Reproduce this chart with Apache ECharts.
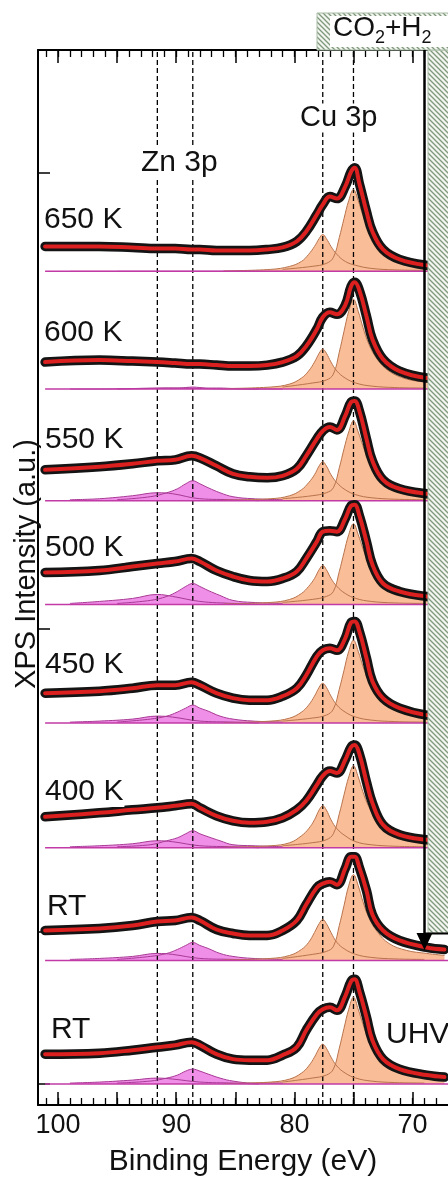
<!DOCTYPE html>
<html>
<head>
<meta charset="utf-8">
<script src="https://cdn.jsdelivr.net/npm/echarts@6/dist/echarts.min.js"></script>
<style>
  html, body { margin: 0; padding: 0; background: #fff; }
  #chart { width: 448px; height: 1182px; }
</style>
</head>
<body>
<div id="chart"></div>
<script>
const FONT = '"Liberation Sans", Arial, sans-serif';

// spectra, top to bottom
const spectrumNames = ['650 K', '600 K', '550 K', '500 K', '450 K', '400 K', 'RT', 'RT'];
// vertical offset of each spectrum (a.u.)
const offsets = [836, 718, 606, 502, 383, 258, 145, 21];

// measured curves: binding energy (eV) and intensity above offset
const dataEnergy = [101.1, 96.5, 93.7, 91.6, 90.1, 88.7, 88.0, 86.6, 85.2, 83.8, 82.3, 81.0, 79.8, 79.0,
  78.1, 77.6, 77.0, 76.4, 75.7, 75.2, 74.9, 74.5, 73.9, 73.4, 72.5, 71.1, 68.8, 67.3];
const measured = [
  [25, 25, 24, 23, 23, 22, 22, 21, 21, 21, 22, 24, 30, 40, 57, 67, 75, 73, 85, 100, 104, 88, 60, 40, 22, 12, 6, 5],
  [27, 29, 28, 27, 26, 25, 25, 24, 23, 23, 24, 27, 33, 43, 60, 72, 77, 75, 84, 103, 107, 99, 73, 50, 30, 18, 11, 10],
  [31, 34, 37, 40, 41, 45, 43, 35, 27, 24, 23, 25, 32, 45, 62, 70, 74, 71, 85, 99, 100, 90, 62, 40, 21, 12, 7, 6],
  [32, 34, 38, 41, 43, 46, 43, 34, 28, 24, 23, 26, 33, 46, 63, 73, 74, 73, 86, 99, 100, 89, 63, 40, 21, 13, 8, 7],
  [30, 32, 35, 38, 38, 41, 38, 30, 25, 23, 23, 27, 35, 48, 67, 73, 75, 73, 85, 101, 102, 92, 65, 42, 25, 15, 8, 7],
  [31, 35, 38, 40, 42, 44, 40, 32, 27, 25, 26, 30, 38, 47, 63, 72, 77, 75, 88, 101, 103, 94, 66, 45, 23, 13, 8, 7],
  [30, 32, 35, 39, 40, 43, 40, 31, 27, 25, 25, 30, 40, 56, 73, 77, 79, 76, 92, 104, 104, 93, 70, 46, 30, 20, 13, 11],
  [30, 31, 34, 37, 39, 42, 39, 30, 25, 24, 24, 29, 37, 54, 70, 75, 77, 74, 88, 103, 105, 93, 67, 44, 25, 15, 9, 7]
];

// fitted components
const zn12Energy = [99, 96.5, 93.7, 91.6, 90.3, 88.0, 85.2, 83];
const zn12 = [
  [0, 0, 0, 0, 0, 0, 0, 0],
  [0, 0, 0.5, 1, 1, 0.5, 0, 0],
  [1, 2, 5, 8, 7, 2, 1, 0],
  [1, 3, 6, 10, 8, 3, 1, 0],
  [1, 2, 4, 7, 6, 2, 1, 0],
  [1, 2, 4, 7, 6, 2, 1, 0],
  [1, 2, 4, 7, 6, 2, 1, 0],
  [1, 2, 4, 6, 5, 2, 1, 0]
];
const zn32Energy = [95, 92.2, 90.8, 89.9, 89.2, 88.6, 88.0, 87.3, 86.3, 85.2, 83.5, 81];
const zn32 = [
  [0, 0, 0, 0, 0, 0, 0, 0, 0, 0, 0, 0],
  [0, 0.5, 1, 1, 1.5, 2, 1.5, 1, 1, 0.5, 0, 0],
  [1, 4, 8, 12, 17, 20, 17, 13, 8, 4, 2, 1],
  [1, 4, 8, 13, 18, 21, 18, 14, 9, 4, 2, 1],
  [1, 4, 7, 11, 15, 18, 15, 12, 7, 4, 2, 1],
  [1, 3, 7, 10, 14, 17, 14, 11, 7, 3, 2, 1],
  [1, 4, 7, 11, 15, 18, 15, 12, 7, 4, 2, 1],
  [1, 3, 6, 9, 13, 15, 13, 10, 6, 3, 1, 1]
];
const cu12Energy = [86, 82, 80.4, 79.4, 78.8, 78.3, 77.9, 77.6, 77.3, 76.9, 76.4, 75.7, 74.8, 73.5, 71.5, 69];
const cu12 = [
  [0.5, 2, 5, 10, 17, 25, 33, 37, 33, 25, 17, 10, 6, 3, 1.5, 1],
  [0.5, 2, 5, 11, 18, 27, 36, 40, 36, 27, 18, 11, 6, 3, 1.5, 1],
  [0.5, 2, 5, 11, 18, 26, 35, 39, 35, 26, 18, 11, 6, 3, 1.5, 1],
  [0.5, 2, 5, 11, 18, 26, 35, 39, 35, 26, 18, 11, 6, 3, 1.5, 1],
  [0.5, 2, 5, 11, 18, 27, 36, 40, 36, 27, 18, 11, 6, 3, 1.5, 1],
  [0.5, 2, 5, 12, 19, 28, 38, 42, 38, 28, 19, 12, 6, 3, 1.5, 1],
  [0.5, 2, 5, 11, 18, 28, 37, 41, 37, 28, 18, 11, 6, 3, 1.5, 1],
  [0.5, 2, 5, 11, 18, 27, 36, 40, 36, 27, 18, 11, 6, 3, 1.5, 1]
];
const cu32Energy = [81, 78.5, 77.3, 76.7, 76.2, 75.8, 75.4, 75.0, 74.6, 74.2, 73.7, 73.0, 72.0, 70.5, 68.8, 67.3];
const cu32 = [
  [2, 5, 8, 14, 34, 53, 71, 82, 71, 56, 41, 27, 16, 9, 6, 5],
  [2, 6, 9, 15, 37, 58, 78, 90, 78, 62, 45, 30, 18, 10, 7, 5],
  [2, 5, 8, 13, 33, 52, 69, 80, 69, 55, 40, 27, 16, 9, 6, 4],
  [2, 5, 8, 13, 33, 52, 70, 81, 70, 56, 41, 27, 16, 9, 6, 4],
  [2, 5, 8, 14, 34, 53, 72, 83, 72, 57, 42, 28, 17, 9, 6, 5],
  [2, 5, 8, 14, 34, 53, 71, 82, 71, 56, 41, 27, 16, 9, 6, 5],
  [2, 6, 9, 14, 35, 55, 75, 86, 75, 59, 43, 29, 17, 10, 7, 5],
  [2, 6, 9, 15, 36, 56, 75, 87, 75, 60, 44, 29, 17, 10, 7, 5]
];
const baselineEnergy = [101.1, 67.0];

// reference peak positions (eV)
const peakLines = [91.6, 88.6, 77.6, 75.0];

// axis ticks
const majorTicks = [70, 75, 80, 85, 90, 95, 100];
const minorTicks = [68, 69, 70, 71, 72, 73, 74, 75, 76, 77, 78, 79, 80, 81, 82, 83, 84, 85, 86, 87, 88, 89,
  90, 91, 92, 93, 94, 95, 96, 97, 98, 99, 100, 101];
const tickLabels = [70, 80, 90, 100];
const yTicks = [21, 174, 478, 935];

const components = [
  { energy: zn12Energy, values: zn12, fill: '#f08fe8', edge: '#a83a94' },
  { energy: zn32Energy, values: zn32, fill: '#f08fe8', edge: '#a83a94' },
  { energy: cu12Energy, values: cu12, fill: '#f9bd98', edge: '#b8734c' },
  { energy: cu32Energy, values: cu32, fill: '#f9bd98', edge: '#b8734c' }
];

const shift = (energy, vals, base) => energy.map((e, i) => [e, base + vals[i]]);

const series = [];
offsets.forEach((base, s) => {
  components.forEach((c) => {
    series.push({
      type: 'line', z: 2, symbol: 'none', smooth: 0.4, silent: true,
      data: shift(c.energy, c.values[s], base),
      lineStyle: { width: 0, opacity: 0 },
      areaStyle: { color: c.fill, opacity: 1, origin: base }
    });
  });
  components.forEach((c) => {
    series.push({
      type: 'line', z: 4, symbol: 'none', smooth: 0.4, silent: true,
      data: shift(c.energy, c.values[s], base),
      lineStyle: { width: 1, color: c.edge }
    });
  });
  series.push({
    type: 'line', z: 4, symbol: 'none', silent: true,
    data: baselineEnergy.map((e) => [e, base]),
    lineStyle: { width: 1.5, color: '#c23aa6' }
  });
  series.push({
    type: 'line', z: 5, symbol: 'none', smooth: 0.4, silent: true,
    data: shift(dataEnergy, measured[s], base),
    lineStyle: { width: 9.5, color: '#141414', cap: 'round', join: 'round' }
  });
  series.push({
    type: 'line', z: 6, symbol: 'none', smooth: 0.4, silent: true,
    data: shift(dataEnergy, measured[s], base),
    lineStyle: { width: 4, color: '#dc1f1f', cap: 'round', join: 'round' }
  });
});

peakLines.forEach((e) => {
  series.push({
    type: 'line', z: 3, symbol: 'none', silent: true,
    data: [[e, 0], [e, 1058]],
    lineStyle: { width: 1.3, color: '#000', type: [5, 3] }
  });
});

// hatch pattern for the gas-phase region
const hatch = document.createElement('canvas');
hatch.width = 5; hatch.height = 5;
const hc = hatch.getContext('2d');
hc.fillStyle = '#f3f6f1'; hc.fillRect(0, 0, 5, 5);
hc.strokeStyle = '#7f987c'; hc.lineWidth = 1.3;
hc.beginPath();
hc.moveTo(-1, -1); hc.lineTo(6, 6);
hc.moveTo(-1, 4); hc.lineTo(1, 6);
hc.moveTo(4, -1); hc.lineTo(6, 1);
hc.stroke();
const hatchFill = { image: hatch, repeat: 'repeat' };

const mctx = document.createElement('canvas').getContext('2d');
const textWidth = (t, size) => { mctx.font = size + 'px ' + FONT; return mctx.measureText(t).width; };

const label = (text, x, y, size) => ({
  type: 'text', z: 100, silent: true,
  style: { text, x, y, font: size + 'px ' + FONT, fill: '#111', verticalAlign: 'middle',
    backgroundColor: '#fff', padding: [0, 1] }
});

// CO2+H2 with subscripts
const gasParts = [['CO', 28, 0], ['2', 18, 1], ['+H', 28, 0], ['2', 18, 1]];
let gx = 333;
const gasText = gasParts.map(([t, size, sub]) => {
  const el = {
    type: 'text', z: 103, silent: true,
    style: { text: t, x: gx, y: sub ? 38 : 28, font: size + 'px ' + FONT, fill: '#111', verticalAlign: 'middle' }
  };
  gx += textWidth(t, size);
  return el;
});

const tempLabelY = [220, 333, 440, 548, 665, 792, 907, 1030];
const tempLabelX = [43, 43, 44, 44, 44, 44, 46, 50];

const option = {
  animation: false,
  grid: { left: 38, top: 50, right: 0, bottom: 74 },
  xAxis: [
    {
      type: 'value', position: 'bottom', min: 67, max: 101.7, inverse: true,
      axisLine: { show: true, onZero: false, lineStyle: { color: '#000', width: 2 } },
      axisTick: { inside: true, length: 13, customValues: majorTicks, lineStyle: { color: '#000', width: 1.5 } },
      axisLabel: { customValues: tickLabels, fontSize: 27, color: '#111', margin: 7, fontFamily: FONT },
      splitLine: { show: false },
      name: 'Binding Energy (eV)', nameLocation: 'middle', nameGap: 42,
      nameTextStyle: { fontSize: 30, color: '#111', fontFamily: FONT }
    },
    {
      type: 'value', position: 'bottom', min: 67, max: 101.7, inverse: true,
      axisLine: { show: false },
      axisTick: { inside: true, length: 7, customValues: minorTicks, lineStyle: { color: '#000', width: 1.3 } },
      axisLabel: { show: false }, splitLine: { show: false }
    },
    {
      type: 'value', position: 'top', min: 67, max: 101.7, inverse: true,
      axisLine: { show: true, onZero: false, lineStyle: { color: '#000', width: 2 } },
      axisTick: { inside: true, length: 13, customValues: majorTicks, lineStyle: { color: '#000', width: 1.5 } },
      axisLabel: { show: false }, splitLine: { show: false }
    },
    {
      type: 'value', position: 'top', min: 67, max: 101.7, inverse: true,
      axisLine: { show: false },
      axisTick: { inside: true, length: 7, customValues: minorTicks, lineStyle: { color: '#000', width: 1.3 } },
      axisLabel: { show: false }, splitLine: { show: false }
    }
  ],
  yAxis: {
    type: 'value', min: 0, max: 1058,
    axisLine: { show: true, onZero: false, lineStyle: { color: '#000', width: 2 } },
    axisTick: { inside: true, length: 12, customValues: yTicks, lineStyle: { color: '#000', width: 1.5 } },
    axisLabel: { show: false }, splitLine: { show: false }
  },
  series,
  graphic: [
    // gas phase region on the right
    { type: 'rect', z: 100, silent: true, shape: { x: 428, y: 50, width: 22, height: 883 },
      style: { fill: hatchFill, stroke: '#a9bda6', lineWidth: 1 } },
    { type: 'rect', z: 101, silent: true, shape: { x: 317, y: 13, width: 133, height: 37 },
      style: { fill: hatchFill, stroke: '#a9bda6', lineWidth: 1 } },
    { type: 'rect', z: 102, silent: true, shape: { x: 330, y: 16, width: 120, height: 31 },
      style: { fill: '#fff' } },
    ...gasText,
    // arrow
    { type: 'line', z: 104, silent: true, shape: { x1: 424.5, y1: 50, x2: 424.5, y2: 936 },
      style: { stroke: '#000', lineWidth: 2.5 } },
    { type: 'line', z: 104, silent: true, shape: { x1: 424, y1: 933.5, x2: 448, y2: 933.5 },
      style: { stroke: '#000', lineWidth: 2 } },
    { type: 'polygon', z: 104, silent: true, shape: { points: [[416.5, 933], [432.5, 933], [424.5, 950]] },
      style: { fill: '#000' } },
    // texts
    label('Zn 3p', 140, 163, 30),
    label('Cu 3p', 299, 118, 29),
    label('UHV', 385, 1035, 30),
    ...spectrumNames.map((n, i) => label(n, tempLabelX[i], tempLabelY[i], 30)),
    {
      type: 'text', z: 99, silent: true, rotation: Math.PI / 2, x: 27, y: 564,
      style: { text: 'XPS Intensity (a.u.)', x: 0, y: 0, font: '29px ' + FONT, fill: '#111',
        align: 'center', verticalAlign: 'middle' }
    }
  ]
};

const chart = echarts.init(document.getElementById('chart'));
chart.setOption(option);
</script>
</body>
</html>
